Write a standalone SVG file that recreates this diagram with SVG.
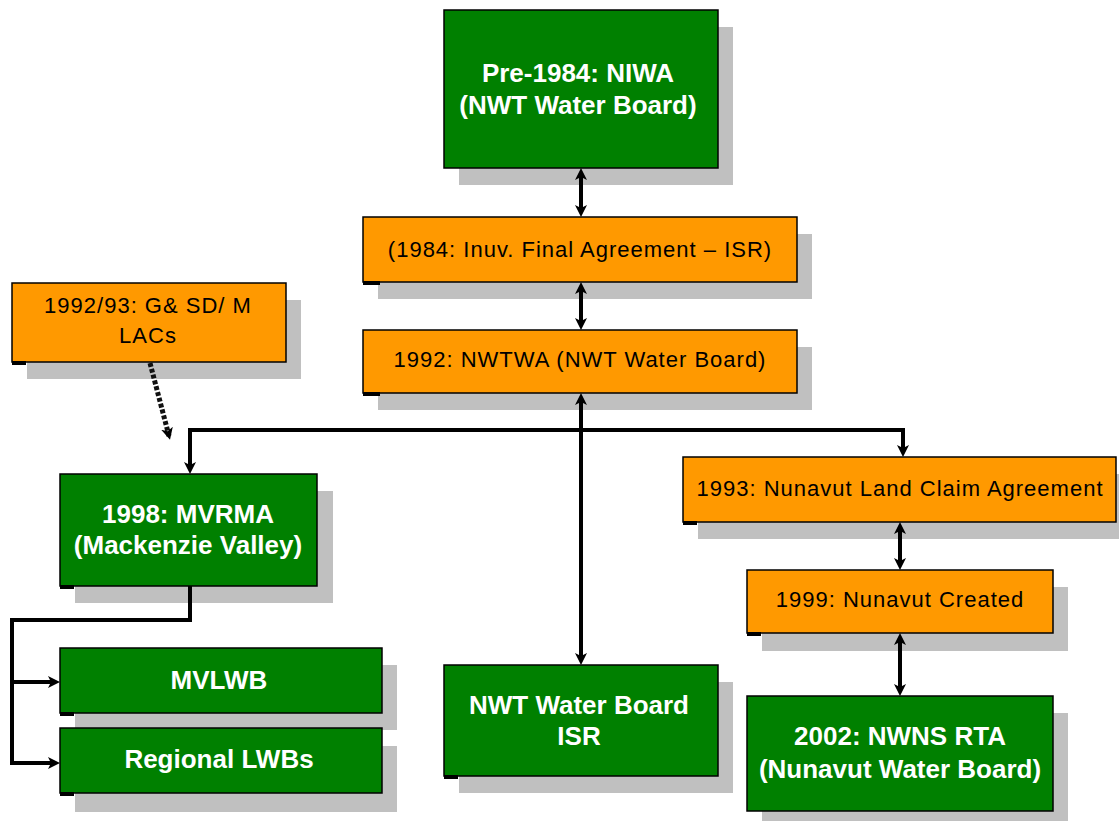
<svg xmlns="http://www.w3.org/2000/svg" width="1119" height="821" viewBox="0 0 1119 821">
<style>
.sh{fill:#c0c0c0}
.g{fill:#008000;stroke:#000;stroke-width:1.5}
.o{fill:#ff9900;stroke:#000;stroke-width:1.5}
.cm{fill:#000}
.gt{font-family:"Liberation Sans",Arial,sans-serif;font-weight:bold;font-size:26px;fill:#fff;text-anchor:middle}
.ot{font-family:"Liberation Sans",Arial,sans-serif;font-size:22px;letter-spacing:1px;fill:#000;text-anchor:middle}
.ln{fill:none;stroke:#000;stroke-width:4}
.dl{fill:none;stroke:#111;stroke-width:5;stroke-dasharray:4 2}
</style>
<defs>
<marker id="ah" viewBox="0 0 12 12" refX="8" refY="6" markerWidth="12" markerHeight="12" markerUnits="userSpaceOnUse" orient="auto-start-reverse">
<path d="M0,0 L12,6 L0,12 L3,6 Z" fill="#000"/>
</marker>
</defs>
<rect width="1119" height="821" fill="#fff"/>

<g id="n-niwa">
<rect class="sh" x="459" y="27" width="274" height="158"/>
<rect class="g" x="444" y="10" width="274" height="158"/>
<text class="gt" x="578" y="82">Pre-1984: NIWA</text>
<text class="gt" x="578" y="114">(NWT Water Board)</text>
</g>

<g id="n-1984">
<rect class="sh" x="378" y="234" width="434" height="65"/>
<rect class="o" x="363" y="217" width="434" height="65"/>
<rect class="cm" x="363" y="281" width="17" height="4"/>
<text class="ot" x="580" y="257">(1984: Inuv. Final Agreement – ISR)</text>
</g>

<g id="n-1992">
<rect class="sh" x="378" y="347" width="434" height="63"/>
<rect class="o" x="363" y="330" width="434" height="63"/>
<rect class="cm" x="363" y="392" width="17" height="4"/>
<text class="ot" x="580" y="367">1992: NWTWA (NWT Water Board)</text>
</g>

<g id="n-lacs">
<rect class="sh" x="27" y="300" width="274" height="79"/>
<rect class="o" x="12" y="283" width="274" height="79"/>
<rect class="cm" x="12" y="361" width="14" height="4"/>
<text class="ot" x="148" y="313">1992/93: G&amp; SD/ M</text>
<text class="ot" x="148" y="343">LACs</text>
</g>

<g id="n-mvrma">
<rect class="sh" x="75" y="491" width="258" height="112"/>
<rect class="g" x="60" y="474" width="257" height="112"/>
<rect class="cm" x="60" y="585" width="14" height="4"/>
<text class="gt" x="188" y="523">1998: MVRMA</text>
<text class="gt" x="188" y="554">(Mackenzie Valley)</text>
</g>

<g id="n-mvlwb">
<rect class="sh" x="75" y="665" width="322" height="65"/>
<rect class="g" x="60" y="648" width="322" height="65"/>
<rect class="cm" x="60" y="712" width="14" height="4"/>
<text class="gt" x="219" y="689">MVLWB</text>
</g>

<g id="n-regional">
<rect class="sh" x="75" y="746" width="322" height="66"/>
<rect class="g" x="60" y="728" width="322" height="65"/>
<rect class="cm" x="60" y="792" width="14" height="4"/>
<text class="gt" x="219" y="768">Regional LWBs</text>
</g>

<g id="n-isr">
<rect class="sh" x="459" y="682" width="274" height="111"/>
<rect class="g" x="444" y="665" width="274" height="111"/>
<rect class="cm" x="444" y="775" width="14" height="4"/>
<text class="gt" x="579" y="714">NWT Water Board</text>
<text class="gt" x="579" y="745">ISR</text>
</g>

<g id="n-1993">
<rect class="sh" x="698" y="474" width="433" height="65"/>
<rect class="o" x="683" y="457" width="433" height="65"/>
<rect class="cm" x="683" y="521" width="14" height="4"/>
<text class="ot" x="900" y="496">1993: Nunavut Land Claim Agreement</text>
</g>

<g id="n-1999">
<rect class="sh" x="762" y="587" width="306" height="64"/>
<rect class="o" x="747" y="570" width="306" height="63"/>
<rect class="cm" x="747" y="632" width="14" height="4"/>
<text class="ot" x="900" y="607">1999: Nunavut Created</text>
</g>

<g id="n-2002">
<rect class="sh" x="762" y="713" width="306" height="115"/>
<rect class="g" x="747" y="696" width="306" height="115"/>
<text class="gt" x="900" y="745">2002: NWNS RTA</text>
<text class="gt" x="900" y="778">(Nunavut Water Board)</text>
</g>

<g id="connectors">
<path class="ln" d="M581,172 L581,213" marker-start="url(#ah)" marker-end="url(#ah)"/>
<path class="ln" d="M581,286 L581,326" marker-start="url(#ah)" marker-end="url(#ah)"/>
<path class="ln" d="M581,397 L581,661" marker-start="url(#ah)" marker-end="url(#ah)"/>
<path class="ln" d="M190,470 L190,430 L903,430 L903,453" marker-start="url(#ah)" marker-end="url(#ah)"/>
<path class="ln" d="M900,526 L900,566" marker-start="url(#ah)" marker-end="url(#ah)"/>
<path class="ln" d="M900,637 L900,692" marker-start="url(#ah)" marker-end="url(#ah)"/>
<path class="ln" d="M190,586 L190,620 L12,620 L12,763 L56,763" marker-end="url(#ah)"/>
<path class="ln" d="M12,682 L56,682" marker-end="url(#ah)"/>
<path class="dl" d="M150,363 L169,436" marker-end="url(#ah)"/>
</g>
</svg>
